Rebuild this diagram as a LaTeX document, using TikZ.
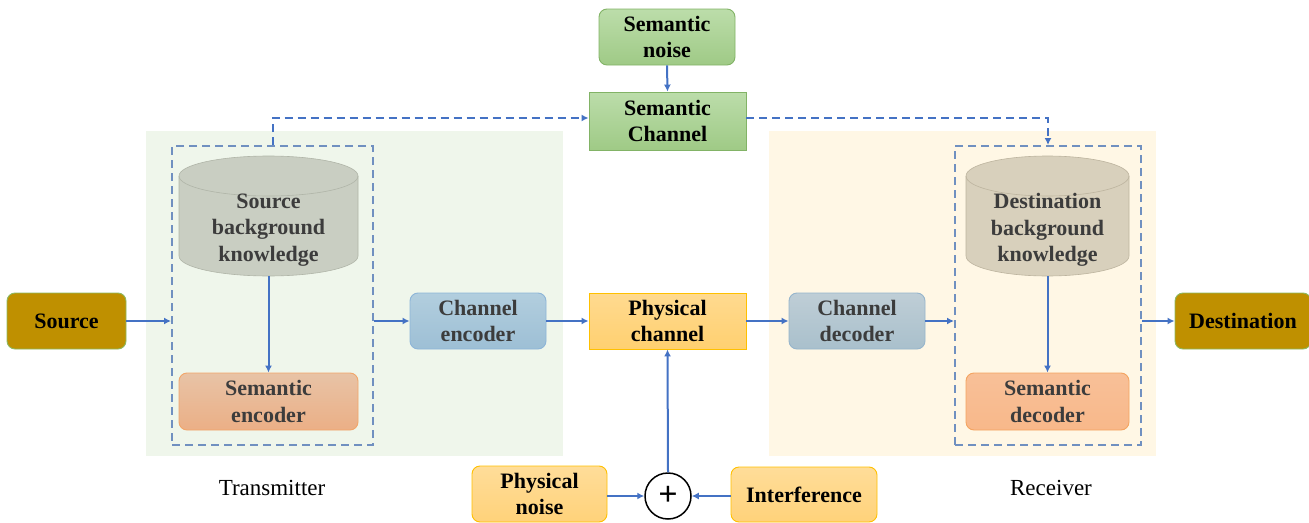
\documentclass[tikz,border=0pt]{standalone}
\usepackage{fontspec}
\setmainfont{Liberation Serif}
\usetikzlibrary{arrows.meta}
\definecolor{gold}{HTML}{BF9000}
\definecolor{goldb}{HTML}{8DB860}
\definecolor{txbgc}{HTML}{EFF6EB}
\definecolor{rxbgc}{HTML}{FFF7E5}
\definecolor{arrc}{HTML}{4472C4}
\definecolor{dashc}{HTML}{7090C0}
\definecolor{txtgray}{HTML}{3C3C3C}
\definecolor{greenb}{HTML}{82B366}
\definecolor{yelb}{HTML}{FFC000}
\begin{document}
\begin{tikzpicture}[x=1pt,y=-1pt,
  box/.style={draw, line width=0.9pt, align=center, inner sep=0pt,
    font=\bfseries\fontsize{22}{26.5}\selectfont},
  rbox/.style={box, rounded corners=8pt},
  graytext/.style={text=txtgray},
  arr/.style={draw=arrc, line width=2pt, -{Latex[length=7pt,width=7pt]}},
  darr/.style={draw=arrc, line width=2pt, dash pattern=on 8pt off 5pt, -{Latex[length=7pt,width=7pt]}},
  dbox/.style={draw=dashc, line width=2pt, dash pattern=on 8pt off 5pt, inner sep=0pt},
  bg/.style={inner sep=0pt, draw=none},
  lbl/.style={font=\fontsize{23}{27}\selectfont},
  cyltext/.style={align=center, text=txtgray, font=\bfseries\fontsize{22}{26.5}\selectfont},
]
\useasboundingbox (0,0) rectangle (1309,522);
% backgrounds
\node[bg, fill=txbgc, minimum width=417, minimum height=325] (txbg) at (354.5,293.5) {};
\node[bg, fill=rxbgc, minimum width=387, minimum height=325] (rxbg) at (962.5,293.5) {};
% dashed boxes
\node[dbox, minimum width=201, minimum height=299] (tx) at (272.5,295.5) {};
\node[dbox, minimum width=186, minimum height=299] (rx) at (1048,295.5) {};
% cylinders
\fill[fill={rgb,255:red,201;green,206;blue,194}, draw={rgb,255:red,176;green,181;blue,168}, line width=0.6pt]
  (179,176) -- (179,256) arc[start angle=180,end angle=360,x radius=89.5pt,y radius=20pt]
  -- (358,176) arc[start angle=0,end angle=180,x radius=89.5pt,y radius=20pt] -- cycle;
\draw[draw={rgb,255:red,176;green,181;blue,168}, line width=0.6pt]
  (179,176) arc[start angle=180,end angle=360,x radius=89.5pt,y radius=20pt];
\node[cyltext] (sbk) at (268.5,230) {Source\\background\\knowledge};
\coordinate (sbkb) at (268.5,276);
\fill[fill={rgb,255:red,216;green,208;blue,188}, draw={rgb,255:red,189;green,180;blue,159}, line width=0.6pt]
  (966,176) -- (966,256) arc[start angle=180,end angle=360,x radius=81.5pt,y radius=20pt]
  -- (1129,176) arc[start angle=0,end angle=180,x radius=81.5pt,y radius=20pt] -- cycle;
\draw[draw={rgb,255:red,189;green,180;blue,159}, line width=0.6pt]
  (966,176) arc[start angle=180,end angle=360,x radius=81.5pt,y radius=20pt];
\node[cyltext] (dbk) at (1047.5,230) {Destination\\background\\knowledge};
\coordinate (dbkb) at (1047.5,276);
% boxes
\node[rbox, fill=gold, draw=goldb, minimum width=119, minimum height=56] (src) at (66.5,321) {Source};
\node[rbox, fill=gold, draw=goldb, minimum width=136, minimum height=56] (dst) at (1243,321) {Destination};
\node[rbox, top color={rgb,255:red,188;green,221;blue,170}, bottom color={rgb,255:red,159;green,202;blue,134}, draw=greenb, minimum width=136, minimum height=56] (snoise) at (667,37) {Semantic\\noise};
\node[box, top color={rgb,255:red,188;green,221;blue,170}, bottom color={rgb,255:red,159;green,202;blue,134}, draw=greenb, minimum width=157, minimum height=58] (schan) at (667.5,121) {Semantic\\Channel};
\node[rbox, graytext, top color={rgb,255:red,178;green,206;blue,222}, bottom color={rgb,255:red,157;green,191;blue,213}, draw={rgb,255:red,141;green,181;blue,216}, minimum width=136, minimum height=56] (cenc) at (478,321) {Channel\\encoder};
\node[box, top color={rgb,255:red,255;green,218;blue,144}, bottom color={rgb,255:red,255;green,208;blue,112}, draw=yelb, minimum width=157, minimum height=56] (pch) at (667.5,321) {Physical\\channel};
\node[rbox, graytext, top color={rgb,255:red,191;green,206;blue,214}, bottom color={rgb,255:red,169;green,192;blue,204}, draw={rgb,255:red,150;green,181;blue,204}, minimum width=136, minimum height=56] (cdec) at (857,321) {Channel\\decoder};
\node[rbox, graytext, top color={rgb,255:red,232;green,195;blue,166}, bottom color={rgb,255:red,235;green,175;blue,134}, draw={rgb,255:red,242;green,166;blue,106}, minimum width=179, minimum height=57] (senc) at (268.5,401.5) {Semantic\\encoder};
\node[rbox, graytext, top color={rgb,255:red,248;green,192;blue,152}, bottom color={rgb,255:red,248;green,184;blue,138}, draw={rgb,255:red,244;green,164;blue,96}, minimum width=163, minimum height=57] (sdec) at (1047.5,401.5) {Semantic\\decoder};
\node[rbox, top color={rgb,255:red,255;green,221;blue,153}, bottom color={rgb,255:red,255;green,210;blue,122}, draw=yelb, minimum width=135, minimum height=56] (pnoise) at (539.5,494) {Physical\\noise};
\node[rbox, top color={rgb,255:red,255;green,221;blue,153}, bottom color={rgb,255:red,255;green,210;blue,122}, draw=yelb, minimum width=146, minimum height=55] (intf) at (804,494.5) {Interference};
\node[circle, draw=black, line width=1.5pt, fill=white, minimum size=46, inner sep=0pt, font=\bfseries\fontsize{34}{34}\selectfont] (plus) at (668,496) {+};
% labels
\node[lbl] (txl) at (272,488) {Transmitter};
\node[lbl] (rxl) at (1051,488) {Receiver};
% connectors
\draw[arr] (src.east) -- (src.east -| tx.west);
\draw[arr] (cenc.west -| tx.east) -- (cenc.west);
\draw[arr] (sbkb) -- (senc.north);
\draw[arr] (cenc.east) -- (pch.west);
\draw[arr] (pch.east) -- (cdec.west);
\draw[arr] (cdec.east) -- (cdec.east -| rx.west);
\draw[arr] (dst.west -| rx.east) -- (dst.west);
\draw[arr] (dbkb) -- (sdec.north);
\draw[arr] (snoise.south) -- (schan.north);
\draw[arr] (plus.north) -- (pch.south);
\draw[arr] (pnoise.east |- plus) -- (plus.west);
\draw[arr] (intf.west |- plus) -- (plus.east);
\draw[darr] (tx.north) |- ([yshift=3pt]schan.west);
\draw[darr] ([yshift=3pt]schan.east) -| (rx.north);
\end{tikzpicture}
\end{document}
